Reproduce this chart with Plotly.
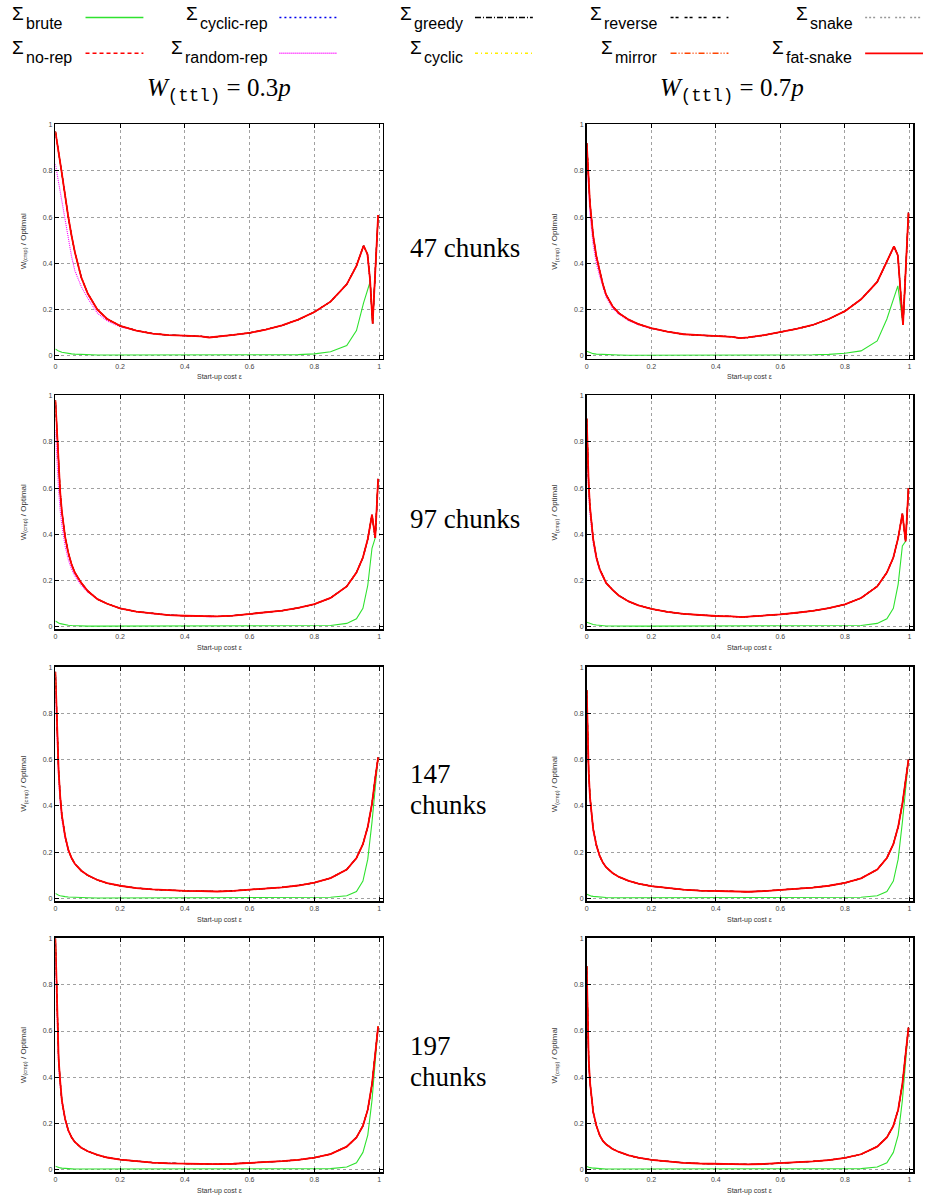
import plotly.graph_objects as go

# ---------------- data ----------------
SERIES = ["brute", "no-rep", "cyclic-rep", "random-rep", "greedy",
          "cyclic", "reverse", "mirror", "snake", "fat-snake"]
W_TTL = ["0.3", "0.7"]
ROW_LABELS = [["47 chunks"], ["97 chunks"], ["147", "chunks"], ["197", "chunks"]]
TICKS = [0, 0.2, 0.4, 0.6, 0.8, 1]
TICK_TEXT = ["0", "0.2", "0.4", "0.6", "0.8", "1"]

EPS_47 = [0, 0.005, 0.01, 0.02, 0.03, 0.04, 0.05, 0.06, 0.08, 0.1, 0.13, 0.16, 0.2,
          0.25, 0.3, 0.35, 0.4, 0.45, 0.475, 0.5, 0.55, 0.6, 0.65, 0.7, 0.75, 0.8,
          0.85, 0.9, 0.93, 0.952, 0.964, 0.972, 0.98, 0.997]
EPS_FINE = [0, 0.003, 0.006, 0.01, 0.015, 0.02, 0.03, 0.04, 0.05, 0.06, 0.08, 0.1,
            0.13, 0.16, 0.2, 0.25, 0.3, 0.35, 0.4, 0.45, 0.48, 0.5, 0.55, 0.6, 0.65,
            0.7, 0.75, 0.8, 0.85, 0.9, 0.93, 0.95, 0.965, 0.978, 0.988, 0.997]

# 47 chunks, W=0.3p
HEUR_47_A = [0.97, 0.93, 0.88, 0.79, 0.69, 0.60, 0.52, 0.45, 0.34, 0.27, 0.20, 0.16, 0.13,
             0.11, 0.097, 0.09, 0.088, 0.085, 0.080, 0.083, 0.091, 0.100, 0.114, 0.132,
             0.157, 0.190, 0.235, 0.310, 0.390, 0.477, 0.440, 0.330, 0.140, 0.610]
RAND_47_A_HEAD = [0.83, 0.79, 0.74, 0.66, 0.58, 0.50, 0.43, 0.37, 0.30, 0.25, 0.185, 0.152, 0.126]
BRUTE_47_A = [0.030, 0.025, 0.021, 0.016, 0.013, 0.011, 0.009, 0.008, 0.006, 0.005,
              0.004, 0.004, 0.004, 0.004, 0.004, 0.004, 0.004, 0.004, 0.004, 0.004, 0.004, 0.004,
              0.005, 0.005, 0.006, 0.009, 0.018, 0.045, 0.110, 0.230, 0.290, 0.320, 0.140, 0.610]
# 47 chunks, W=0.7p
HEUR_47_B = [0.92, 0.78, 0.66, 0.52, 0.43, 0.37, 0.31, 0.265, 0.215, 0.185, 0.157, 0.138, 0.12,
             0.105, 0.094, 0.09, 0.088, 0.083, 0.077, 0.080, 0.090, 0.102, 0.117, 0.134,
             0.160, 0.194, 0.245, 0.320, 0.410, 0.474, 0.435, 0.290, 0.134, 0.620]
RAND_47_B_HEAD = [0.88, 0.72, 0.61, 0.48, 0.40, 0.345, 0.295, 0.255, 0.207, 0.18, 0.153, 0.135, 0.118]
BRUTE_47_B = [0.020, 0.017, 0.014, 0.010, 0.008, 0.007, 0.006, 0.005, 0.004, 0.004,
              0.003, 0.003, 0.003, 0.003, 0.003, 0.003, 0.003, 0.003, 0.003, 0.003, 0.003, 0.003,
              0.004, 0.005, 0.007, 0.012, 0.022, 0.065, 0.160, 0.250, 0.303, 0.220, 0.134, 0.620]

# 97 chunks
HEUR_97_A = [0.98, 0.90, 0.80, 0.69, 0.58, 0.50, 0.39, 0.32, 0.27, 0.235, 0.19, 0.155,
             0.12, 0.10, 0.08, 0.066, 0.057, 0.051, 0.048, 0.046, 0.043, 0.045, 0.049, 0.055,
             0.062, 0.070, 0.082, 0.098, 0.125, 0.175, 0.235, 0.300, 0.380, 0.485, 0.385, 0.640]
RAND_97_A_HEAD = [0.85, 0.76, 0.68, 0.59, 0.50, 0.44, 0.35, 0.29, 0.25, 0.22, 0.18, 0.15]
BRUTE_97_A = [0.025, 0.022, 0.020, 0.017, 0.014, 0.012, 0.009, 0.007, 0.006, 0.005, 0.004, 0.003,
              0.003, 0.003, 0.003, 0.003, 0.003, 0.003, 0.003, 0.003, 0.003, 0.003, 0.003, 0.003,
              0.003, 0.003, 0.003, 0.004,
              0.006, 0.015, 0.035, 0.080, 0.180, 0.340, 0.385, 0.640]
HEUR_97_B = [0.90, 0.75, 0.62, 0.52, 0.44, 0.38, 0.30, 0.25, 0.22, 0.19, 0.16, 0.135,
             0.11, 0.093, 0.078, 0.065, 0.056, 0.050, 0.047, 0.045, 0.042, 0.044, 0.048, 0.054,
             0.061, 0.069, 0.081, 0.097, 0.125, 0.175, 0.235, 0.300, 0.385, 0.490, 0.370, 0.600]
RAND_97_B_HEAD = [0.86, 0.70, 0.58, 0.49, 0.42, 0.36, 0.29, 0.245, 0.215, 0.188]
BRUTE_97_B = [0.020, 0.018, 0.016, 0.014, 0.012, 0.010, 0.008, 0.006, 0.005, 0.004, 0.004, 0.003,
              0.003, 0.003, 0.003, 0.003, 0.003, 0.003, 0.003, 0.003, 0.003, 0.003, 0.003, 0.003,
              0.003, 0.003, 0.003, 0.004,
              0.006, 0.015, 0.035, 0.080, 0.185, 0.350, 0.370, 0.600]

# 147 chunks
HEUR_147_A = [0.98, 0.85, 0.70, 0.55, 0.44, 0.36, 0.27, 0.21, 0.175, 0.15, 0.12, 0.10,
              0.08, 0.066, 0.055, 0.045, 0.039, 0.035, 0.033, 0.032, 0.029, 0.030, 0.033, 0.037,
              0.042, 0.048, 0.056, 0.068, 0.088, 0.125, 0.175, 0.235, 0.310, 0.410, 0.520, 0.610]
RAND_147_A_HEAD = [0.90, 0.77, 0.64, 0.51, 0.41, 0.34, 0.26, 0.205]
BRUTE_147_A = [0.022, 0.019, 0.017, 0.014, 0.012, 0.010, 0.008, 0.006, 0.005, 0.004, 0.003, 0.003,
               0.002, 0.002, 0.002, 0.002, 0.002, 0.002, 0.002, 0.002, 0.002, 0.002, 0.002, 0.002,
               0.002, 0.002, 0.002, 0.003,
               0.005, 0.012, 0.030, 0.075, 0.170, 0.330, 0.490, 0.610]
HEUR_147_B = [0.90, 0.70, 0.55, 0.44, 0.36, 0.30, 0.23, 0.185, 0.155, 0.135, 0.11, 0.093,
              0.076, 0.064, 0.053, 0.044, 0.038, 0.034, 0.032, 0.031, 0.028, 0.029, 0.032, 0.036,
              0.041, 0.047, 0.055, 0.067, 0.087, 0.125, 0.175, 0.235, 0.310, 0.410, 0.510, 0.600]
RAND_147_B_HEAD = [0.86, 0.66, 0.52, 0.42, 0.345, 0.29, 0.225, 0.18]
BRUTE_147_B = [0.018, 0.016, 0.014, 0.012, 0.010, 0.009, 0.007, 0.005, 0.004, 0.004, 0.003, 0.003,
               0.002, 0.002, 0.002, 0.002, 0.002, 0.002, 0.002, 0.002, 0.002, 0.002, 0.002, 0.002,
               0.002, 0.002, 0.002, 0.003,
               0.005, 0.012, 0.030, 0.075, 0.170, 0.330, 0.480, 0.600]

# 197 chunks
HEUR_197_A = [1.0, 0.80, 0.62, 0.48, 0.38, 0.30, 0.22, 0.17, 0.14, 0.12, 0.095, 0.08,
              0.064, 0.053, 0.044, 0.036, 0.031, 0.028, 0.026, 0.025, 0.023, 0.024, 0.026, 0.029,
              0.033, 0.037, 0.043, 0.052, 0.068, 0.100, 0.140, 0.190, 0.260, 0.370, 0.500, 0.620]
RAND_197_A_HEAD = [0.92, 0.74, 0.58, 0.45, 0.36, 0.29, 0.215, 0.167]
BRUTE_197_A = [0.015, 0.013, 0.011, 0.009, 0.008, 0.007, 0.005, 0.004, 0.004, 0.003, 0.003, 0.002,
               0.002, 0.002, 0.002, 0.002, 0.002, 0.002, 0.002, 0.002, 0.002, 0.002, 0.002, 0.002,
               0.002, 0.002, 0.002, 0.003,
               0.005, 0.012, 0.030, 0.075, 0.150, 0.300, 0.460, 0.620]
HEUR_197_B = [0.88, 0.62, 0.48, 0.38, 0.30, 0.25, 0.19, 0.15, 0.125, 0.11, 0.09, 0.077,
              0.062, 0.052, 0.043, 0.035, 0.030, 0.027, 0.025, 0.024, 0.022, 0.023, 0.025, 0.028,
              0.032, 0.036, 0.042, 0.051, 0.067, 0.100, 0.140, 0.190, 0.260, 0.370, 0.500, 0.615]
RAND_197_B_HEAD = [0.85, 0.60, 0.46, 0.37, 0.29, 0.245]
BRUTE_197_B = [0.014, 0.012, 0.010, 0.009, 0.008, 0.007, 0.005, 0.004, 0.004, 0.003, 0.003, 0.002,
               0.002, 0.002, 0.002, 0.002, 0.002, 0.002, 0.002, 0.002, 0.002, 0.002, 0.002, 0.002,
               0.002, 0.002, 0.002, 0.003,
               0.005, 0.012, 0.030, 0.075, 0.150, 0.300, 0.460, 0.615]

PANELS = [  # (row, col, eps, heuristics, random-rep head, brute)
    (0, 0, EPS_47, HEUR_47_A, RAND_47_A_HEAD, BRUTE_47_A),
    (0, 1, EPS_47, HEUR_47_B, RAND_47_B_HEAD, BRUTE_47_B),
    (1, 0, EPS_FINE, HEUR_97_A, RAND_97_A_HEAD, BRUTE_97_A),
    (1, 1, EPS_FINE, HEUR_97_B, RAND_97_B_HEAD, BRUTE_97_B),
    (2, 0, EPS_FINE, HEUR_147_A, RAND_147_A_HEAD, BRUTE_147_A),
    (2, 1, EPS_FINE, HEUR_147_B, RAND_147_B_HEAD, BRUTE_147_B),
    (3, 0, EPS_FINE, HEUR_197_A, RAND_197_A_HEAD, BRUTE_197_A),
    (3, 1, EPS_FINE, HEUR_197_B, RAND_197_B_HEAD, BRUTE_197_B),
]

# ---------------- styles ----------------
STYLE_COLOR = ["#2fe22f", "#ff0000", "#0000ee", "#ff00ff", "#000000",
               "#ffee00", "#000000", "#ff4400", "#999999", "#ff0000"]
STYLE_DASH = ["solid", "4px,3px", "2px,3px", "1px,1px", "6px,2px,1px,2px",
              "3px,3px,1px,3px", "3px,2px,3px,6px", "6px,2px,1px,2px,1px,2px",
              "2px,2px,2px,2px,2px,5px", "solid"]
STYLE_WIDTH = [1.1, 1.1, 1.1, 1.1, 1.1, 1.1, 1.1, 1.1, 1.1, 1.8]

FW, FH = 925, 1202


def px(x):
    return x / FW


def py(y):
    return 1 - y / FH


COL_X = [(53.5, 381.5), (586.0, 913.0)]
ROW_TOP = [121.7, 393.5, 666.0, 938.2]
ROW_H = 235.0

SANS = "Liberation Sans"
SERIF = "Liberation Serif"

fig = go.Figure()
annotations = []
shapes = []

for idx, (r, c, eps, heur, rhead, brute) in enumerate(PANELS):
    n = idx + 1
    xa = "x" if n == 1 else f"x{n}"
    ya = "y" if n == 1 else f"y{n}"
    rand = list(rhead) + list(heur[len(rhead):])
    vals = {"brute": brute, "random-rep": rand}
    for k, name in enumerate(SERIES):
        yv = vals.get(name, heur)
        fig.add_trace(go.Scatter(
            x=eps, y=yv, mode="lines", name=name, xaxis=xa, yaxis=ya,
            line=dict(color=STYLE_COLOR[k], width=STYLE_WIDTH[k], dash=STYLE_DASH[k]),
            showlegend=False, hoverinfo="skip"))
    x0, x1 = COL_X[c]
    top = ROW_TOP[r]
    bot = top + ROW_H
    common = dict(
        tickvals=TICKS, ticktext=TICK_TEXT, ticks="inside", ticklen=4, tickwidth=1,
        tickcolor="#000", showline=True, linewidth=1.6, linecolor="#000",
        mirror="ticks", showgrid=True, gridcolor="#777777", gridwidth=0.7,
        griddash="dot", zeroline=False, fixedrange=True,
        tickfont=dict(family=SANS, size=7, color="#444"))
    fig.layout[("xaxis" if n == 1 else f"xaxis{n}")] = dict(
        domain=[px(x0), px(x1)], anchor=ya, range=[0, 1.011], **common)
    fig.layout[("yaxis" if n == 1 else f"yaxis{n}")] = dict(
        domain=[py(bot), py(top)], anchor=xa, range=[-0.011, 1.002], **common)
    # axis titles
    annotations.append(dict(
        x=px((x0 + x1) / 2), y=py(bot + 18.6), xref="paper", yref="paper",
        text="Start-up cost ε", showarrow=False, xanchor="center", yanchor="middle",
        font=dict(family=SANS, size=7, color="#333")))
    annotations.append(dict(
        x=px(x0 - 31.5), y=py(top + ROW_H / 2), xref="paper", yref="paper",
        text="W<sub>(cmp)</sub> / Optimal", showarrow=False, textangle=-90,
        xanchor="center", yanchor="middle",
        font=dict(family=SANS, size=8, color="#333")))

# column titles
for c, w in enumerate(W_TTL):
    cx = [217, 732][c]
    annotations.append(dict(
        x=px(cx), y=py(87), xref="paper", yref="paper", showarrow=False,
        text=f"<i>W</i><sub><span style='font-family:Liberation Mono'>(ttl)</span></sub> = {w}<i>p</i>",
        xanchor="center", yanchor="middle",
        font=dict(family=SERIF, size=25, color="#000")))

# row labels
for r, lines in enumerate(ROW_LABELS):
    if len(lines) == 1:
        bases = [ROW_TOP[r] + 133.5]
    else:
        bases = [ROW_TOP[r] + 117, ROW_TOP[r] + 148]
    for line, b in zip(lines, bases):
        annotations.append(dict(
            x=px(408), y=py(b - 9), xref="paper", yref="paper", showarrow=False,
            text=line, xanchor="left", yanchor="middle", borderpad=0,
            font=dict(family=SERIF, size=27, color="#000")))

# legend (2 rows x 5 columns, column-major order)
LEG_SUB_LEFT = [23, 23, 197, 182, 412, 422, 602, 613.5, 808.5, 785]
LEG_LINE_X = [83.7, 278, 474, 670, 865]
LEG_ROW_SIGMA_BASE = [17, 51]
LEG_ROW_SUB_BASE = [26, 60]
LEG_ROW_LINE_Y = [14.5, 50.5]
for k, name in enumerate(SERIES):
    col, row = k // 2, k % 2
    annotations.append(dict(
        x=px(LEG_SUB_LEFT[k]), y=py(LEG_ROW_SIGMA_BASE[row] - 6.3), xref="paper", yref="paper",
        text="Σ", showarrow=False, xanchor="right", yanchor="middle", borderpad=0,
        font=dict(family=SANS, size=19, color="#000")))
    annotations.append(dict(
        x=px(LEG_SUB_LEFT[k]), y=py(LEG_ROW_SUB_BASE[row] - 5.8), xref="paper", yref="paper",
        text=name, showarrow=False, xanchor="left", yanchor="middle", borderpad=0,
        font=dict(family=SANS, size=16, color="#000")))
    lx = LEG_LINE_X[col]
    ly = LEG_ROW_LINE_Y[row]
    shapes.append(dict(
        type="line", xref="paper", yref="paper", x0=px(lx), x1=px(lx + 58),
        y0=py(ly), y1=py(ly),
        line=dict(color=STYLE_COLOR[k], width=1.5 if k < 9 else 1.8, dash=STYLE_DASH[k])))

fig.update_layout(
    width=FW, height=FH, margin=dict(l=0, r=0, t=0, b=0),
    paper_bgcolor="#fff", plot_bgcolor="#fff",
    annotations=annotations, shapes=shapes, showlegend=False,
    font=dict(family=SANS))

# remove the browser's default 8px body margin so the figure starts at (0, 0)
fig.write_html("out.html",
               config={"displayModeBar": False, "staticPlot": True},
               post_script="document.body.style.margin='0';document.body.style.padding='0';")
